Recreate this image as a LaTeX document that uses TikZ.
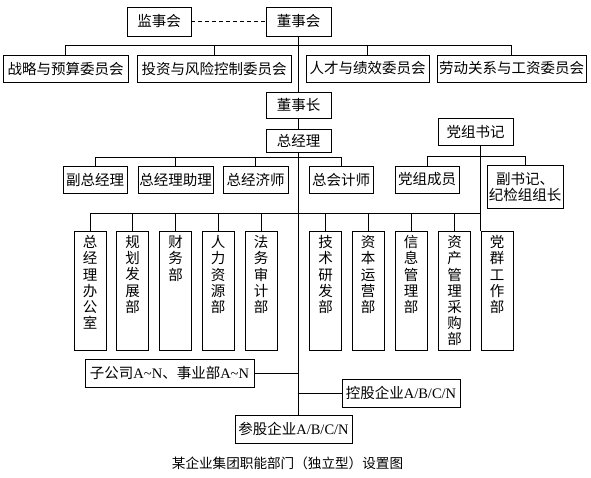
\documentclass[tikz,border=0pt]{standalone}
\usepackage{fontspec}
\setmainfont{Noto Sans CJK SC}
\newfontfamily\latf{Liberation Serif}
\newcommand\vt[1]{\parbox[c][110pt][t]{18pt}{\centering\fontsize{14.5}{16.2}\selectfont #1}}
\begin{document}
\begin{tikzpicture}[x=1pt,y=-1pt,line width=0.9pt,
  box/.style={draw, inner sep=0pt, font=\fontsize{14.5}{16}\selectfont, align=center},
  dept/.style={draw, inner sep=0pt, minimum width=32pt, minimum height=119pt},
  dashline/.style={dash pattern=on 4pt off 3pt}]
\useasboundingbox (0,0) rectangle (591,477);
% top
\node[box, minimum width=64pt, minimum height=29pt] (jsh) at (159,21.5) {监事会};
\node[box, minimum width=65pt, minimum height=29pt] (dsh) at (298.5,21.5) {董事会};
\node[box, minimum width=125pt, minimum height=27pt] (zl) at (65.5,68.5) {战略与预算委员会};
\node[box, minimum width=154pt, minimum height=27pt] (tz) at (214,68.5) {投资与风险控制委员会};
\node[box, minimum width=123pt, minimum height=27pt] (rc) at (367.5,68.5) {人才与绩效委员会};
\node[box, minimum width=149pt, minimum height=27pt] (ld) at (511.5,68.5) {劳动关系与工资委员会};
\node[box, minimum width=65pt, minimum height=26pt] (dsz) at (298.5,105) {董事长};
\node[box, minimum width=65pt, minimum height=23pt] (zjl) at (298.5,140.5) {总经理};
\node[box, minimum width=75pt, minimum height=27pt] (dzsj) at (475.5,131.5) {党组书记};
% level 3
\node[box, minimum width=64pt, minimum height=27pt] (fzjl) at (95,179.5) {副总经理};
\node[box, minimum width=75pt, minimum height=27pt] (zjlzl) at (175.5,179.5) {总经理助理};
\node[box, minimum width=65pt, minimum height=27pt] (zjjs) at (255.5,179.5) {总经济师};
\node[box, minimum width=64pt, minimum height=27pt] (zkjs) at (341,179.5) {总会计师};
\node[box, minimum width=64pt, minimum height=27pt] (dzcy) at (427,179.5) {党组成员};
\node[box, minimum width=76pt, minimum height=43pt] (fsj) at (525,186.5) {副书记、\\纪检组组长};
% departments
\node[dept] (d1) at (90,290.5) {\vt{总\\经\\理\\办\\公\\室}};
\node[dept] (d2) at (132.5,290.5) {\vt{规\\划\\发\\展\\部}};
\node[dept] (d3) at (175.5,290.5) {\vt{财\\务\\部}};
\node[dept] (d4) at (218,290.5) {\vt{人\\力\\资\\源\\部}};
\node[dept] (d5) at (261,290.5) {\vt{法\\务\\审\\计\\部}};
\node[dept] (d6) at (325.5,290.5) {\vt{技\\术\\研\\发\\部}};
\node[dept] (d7) at (368,290.5) {\vt{资\\本\\运\\营\\部}};
\node[dept] (d8) at (411,290.5) {\vt{信\\息\\管\\理\\部}};
\node[dept] (d9) at (454.5,290.5) {\vt{资\\产\\管\\理\\采\\购\\部}};
\node[dept] (d10) at (497,290.5) {\vt{党\\群\\工\\作\\部}};
% bottom
\node[box, minimum width=169pt, minimum height=28pt] (zgs) at (169.5,373) {子公司{\latf A\textasciitilde N}、事业部{\latf A\textasciitilde N}};
\node[box, minimum width=118pt, minimum height=28pt] (kg) at (401,393) {控股企业{\latf A/B/C/N}};
\node[box, minimum width=117pt, minimum height=28pt] (cg) at (293.5,429) {参股企业{\latf A/B/C/N}};
\node[font=\fontsize{13.6}{16}\selectfont] (cap) at (287.5,463) {某企业集团职能部门（独立型）设置图};
% helper levels
\coordinate (cl) at (0,45);
\coordinate (l3) at (0,157);
\coordinate (pl) at (0,156);
\coordinate (dl) at (0,213);
% connectors
\draw[dashline] (jsh.east) -- (dsh.west);
\draw (zl.north) -- (zl.north |- cl) -- (ld.north |- cl) -- (ld.north);
\draw (tz.north) -- (tz.north |- cl);
\draw (rc.north) -- (rc.north |- cl);
\draw (dsh.south) -- (dsz.north);
\draw (dsz.south) -- (zjl.north);
\draw (zjl.south) -- (zjl.south |- cg.north);
\draw (fzjl.north) -- (fzjl.north |- l3) -- (zkjs.north |- l3) -- (zkjs.north);
\draw (zjlzl.north) -- (zjlzl.north |- l3);
\draw (zjjs.north) -- (zjjs.north |- l3);
\draw (dzsj.south -| d10.north west) -- (d10.north west);
\draw (dzcy.north) -- (dzcy.north |- pl) -- (fsj.north |- pl) -- (fsj.north);
\draw (d1.north) -- (d1.north |- dl) -- (d10.north west |- dl);
\foreach \d in {d2,d3,d4,d5,d6,d7,d8,d9} {\draw (\d.north) -- (\d.north |- dl);}
\draw (zgs.east) -- (zgs.east -| zjl.south);
\draw (kg.west) -- (kg.west -| zjl.south);
\end{tikzpicture}
\end{document}
